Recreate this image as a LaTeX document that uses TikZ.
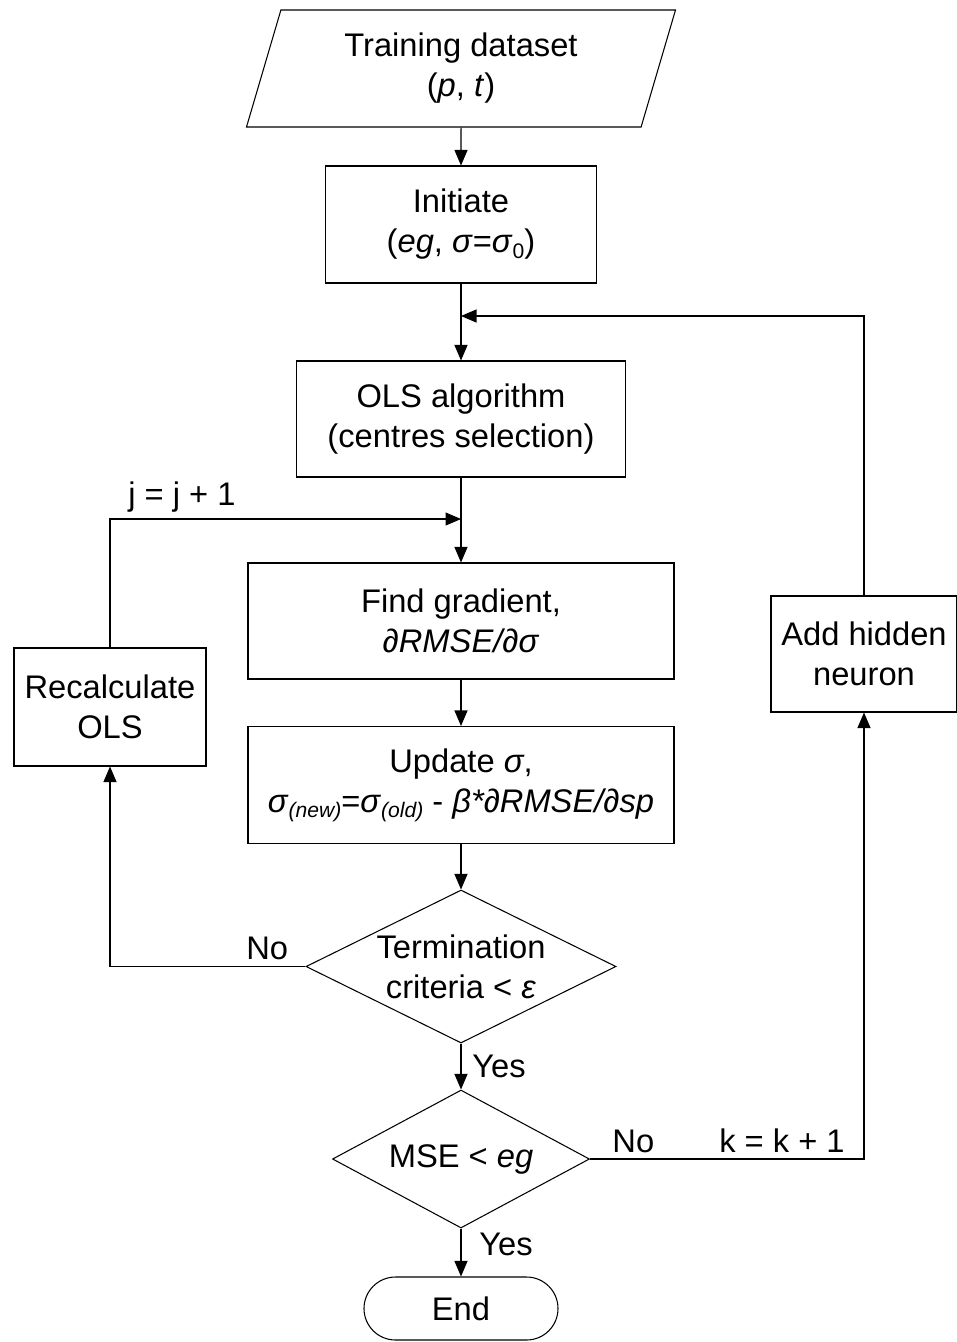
\documentclass[tikz,border=0pt]{standalone}
\usepackage{fontspec}
\setmainfont{Liberation Sans}
\usetikzlibrary{arrows.meta,calc,positioning,shapes.geometric,shapes.misc}
\tikzset{pin/.style={-{Triangle[length=3.1mm,width=2.6mm]}, line width=0.6pt},
  blk/.style={draw, line width=0.6pt, align=center, inner sep=0pt},
  dec/.style={blk, diamond, inner xsep=-30mm}}
\newcommand{\lowidx}[1]{\raisebox{-3pt}{\fontsize{12}{12}\selectfont #1}}

\begin{document}
\begin{tikzpicture}[x=0.2mm, y=-0.2mm, font=\fontsize{18.6}{22.8}\selectfont]
  \useasboundingbox (0,0) rectangle (957,1342);
  % main column
  \node[blk, trapezium, trapezium left angle=64, trapezium right angle=116,
    trapezium stretches body, minimum width=85.8mm, minimum height=23.4mm] (data) at (461,68.5)
    {Training dataset\\(\textit{p}, \textit{t})};
  \node[blk, minimum width=54.2mm, minimum height=23.4mm] (init) at (461,224.5)
    {Initiate\\(\textit{eg}, \textit{σ}=\textit{σ}\lowidx{0})};
  \node[blk, minimum width=65.8mm, minimum height=23.2mm] (ols) at (461,419)
    {OLS algorithm\\(centres selection)};
  \node[blk, minimum width=85.2mm, minimum height=23.2mm] (grad) at (461,621)
    {Find gradient,\\\textit{∂RMSE/∂σ}};
  \node[blk, minimum width=85.2mm, minimum height=23.4mm] (upd) at (461,785)
    {Update \textit{σ},\\\textit{σ}\lowidx{\textit{(new)}}=\textit{σ}\lowidx{\textit{(old)}} - \textit{β*∂RMSE/∂sp}};
  \node[dec, minimum width=62mm, minimum height=30.6mm] (term) at (461,966.5)
    {Termination\\criteria < \textit{ε}};
  \node[dec, minimum width=51.4mm, minimum height=27.6mm] (mse) at (461,1159)
    {MSE < \textit{eg}};
  \node[blk, rounded rectangle, minimum width=38.8mm, minimum height=12.6mm] (endn) at (461,1308.5) {End};
  % side boxes
  \node[blk, minimum width=38.4mm, minimum height=23.6mm] (recalc) at (110,707) {Recalculate\\OLS};
  \node[blk, minimum width=37.2mm, minimum height=23.2mm] (addh) at (864,654) {Add hidden\\neuron};
  \coordinate (joinA) at (461,316);
  \coordinate (joinB) at (461,519);
  % connectors
  \draw[pin] (data.south) -- (init.north);
  \draw[pin] (init.south) -- (ols.north);
  \draw[pin] (ols.south) -- (grad.north);
  \draw[pin] (grad.south) -- (upd.north);
  \draw[pin] (upd.south) -- (term.north);
  \draw[pin] (term.south) -- node[right, xshift=1mm]{Yes} (mse.north);
  \draw[pin] (mse.south) -- node[right, xshift=2.4mm, yshift=1.6mm]{Yes} (endn.north);
  \draw[pin] (term.west) -| node[pos=0, anchor=south east, xshift=-2.2mm]{No} (recalc.south);
  \draw[pin] (recalc.north) |- node[pos=0.5, anchor=south west, xshift=2.4mm]{j = j + 1} (joinB);
  \draw[pin] (mse.east) -| node[pos=0, anchor=south west, xshift=3.2mm]{No}
    node[pos=0.5, anchor=south east, xshift=-2.6mm]{k = k + 1} (addh.south);
  \draw[pin] (addh.north) |- (joinA);
\end{tikzpicture}
\end{document}
